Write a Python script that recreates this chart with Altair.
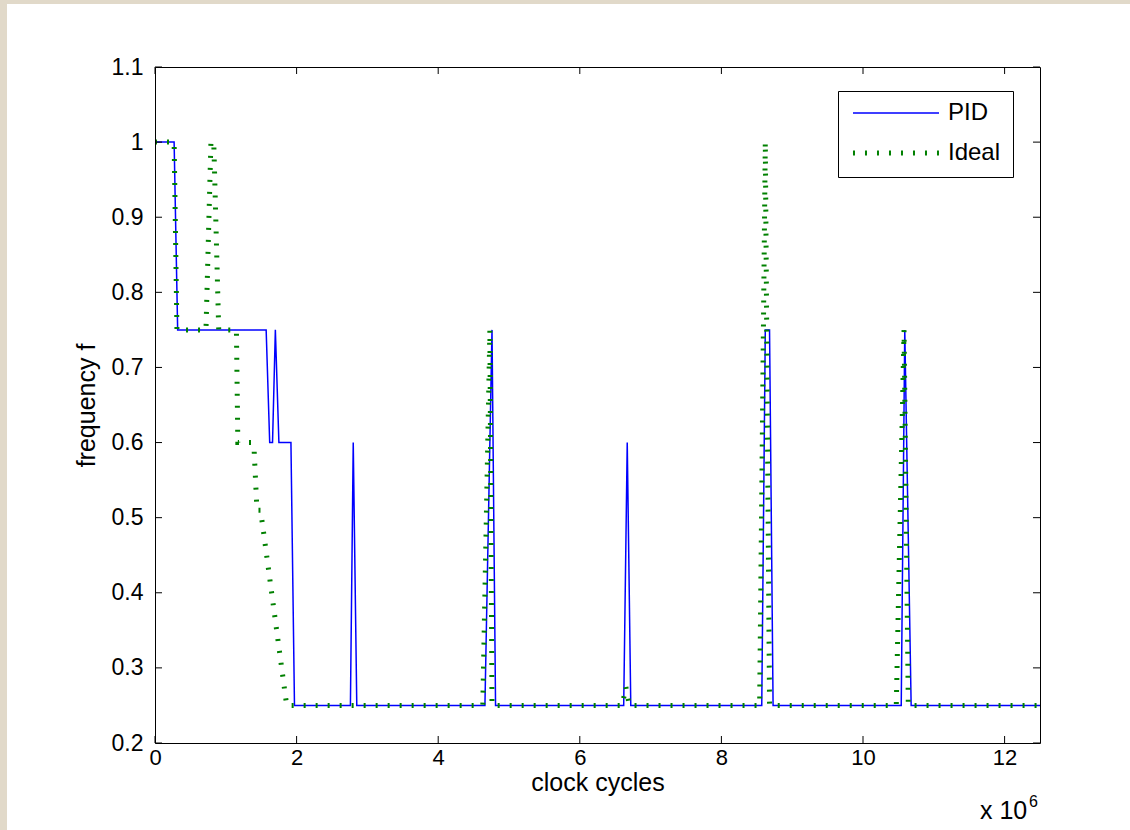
import altair as alt
import pandas as pd

# ---- data (x in units of 10^6 clock cycles) ----
pid_x = [0, 0.27, 0.32, 1.57, 1.62, 1.66, 1.70, 1.75, 1.92, 1.97, 2.76, 2.80, 2.85,
         4.66, 4.76, 4.81, 6.62, 6.67, 6.72, 8.57, 8.62, 8.68, 8.73,
         10.54, 10.59, 10.68, 12.5]
pid_f = [1.0, 1.0, 0.75, 0.75, 0.6, 0.6, 0.75, 0.6, 0.6, 0.25, 0.25, 0.6, 0.25,
         0.25, 0.75, 0.25, 0.25, 0.6, 0.25, 0.25, 0.75, 0.75, 0.25,
         0.25, 0.75, 0.25, 0.25]

ideal_x = [0, 0.27, 0.31, 0.72, 0.79, 0.83, 0.90, 1.15, 1.17, 1.36, 1.40, 1.44, 1.49, 1.52, 1.86,
           4.63, 4.73, 4.76, 6.60, 6.65, 6.70, 8.54, 8.62, 8.68,
           10.47, 10.58, 10.64, 12.5]
ideal_f = [1.0, 1.0, 0.75, 0.75, 1.0, 1.0, 0.75, 0.75, 0.6, 0.6, 0.59, 0.51, 0.51, 0.49, 0.25,
           0.25, 0.75, 0.25, 0.25, 0.275, 0.25, 0.25, 1.0, 0.25,
           0.25, 0.75, 0.25, 0.25]

series_names = ["PID", "Ideal"]
series_colors = ["#0000ff", "#008000"]
x_ticks = [0, 2, 4, 6, 8, 10, 12]
y_ticks = [0.2, 0.3, 0.4, 0.5, 0.6, 0.7, 0.8, 0.9, 1.0, 1.1]

W, H = 885, 676
FONT = "Liberation Sans"

pid_df = pd.DataFrame({"x": pid_x, "f": pid_f, "series": "PID", "i": range(len(pid_x))})
ideal_df = pd.DataFrame({"x": ideal_x, "f": ideal_f, "series": "Ideal", "i": range(len(ideal_x))})

xs = alt.Scale(domain=[0, 12.5], nice=False, zero=False)
ys = alt.Scale(domain=[0.2, 1.1], nice=False, zero=False)

legend = alt.Legend(title=None, orient="none", legendX=683, legendY=24,
                    fillColor="white", strokeColor="black", padding=12,
                    labelFontSize=24, labelFont=FONT, labelColor="black",
                    symbolType="stroke", symbolSize=7400, clipHeight=20,
                    rowPadding=16, labelOffset=6)

enc_common = dict(
    color=alt.Color("series:N", scale=alt.Scale(domain=series_names, range=series_colors), legend=legend),
    strokeDash=alt.StrokeDash("series:N", scale=alt.Scale(domain=series_names, range=[[1, 0], [2, 10]]), legend=legend),
    strokeWidth=alt.StrokeWidth("series:N", scale=alt.Scale(domain=series_names, range=[1.5, 5]), legend=legend),
    order=alt.Order("i:Q"),
)

x_axis = alt.Axis(values=x_ticks, ticks=False, grid=False, domain=True, domainColor="black",
                  labelFont=FONT, labelFontSize=22, labelColor="black", labelPadding=4,
                  title="clock cycles", titleFont=FONT, titleFontSize=25, titleFontWeight="normal",
                  titleColor="black", titleY=39, titleBaseline="middle", zindex=1, labelFlush=False)
y_axis = alt.Axis(values=y_ticks, ticks=False, grid=False, domain=True, domainColor="black",
                  labelFont=FONT, labelFontSize=23, labelColor="black", labelPadding=12,
                  format=".1~f", title="frequency f", titleFont=FONT, titleFontSize=25,
                  titleFontWeight="normal", titleColor="black", titleX=-69, titleBaseline="middle",
                  zindex=1)

# white sheet over the beige page
sheet = alt.Chart(pd.DataFrame({"a": [0]})).mark_rect(color="white").encode(
    x=alt.value(-148), x2=alt.value(W + 90), y=alt.value(-63), y2=alt.value(H + 87))

pid_line = alt.Chart(pid_df).mark_line(interpolate="linear").encode(
    x=alt.X("x:Q", scale=xs, axis=x_axis),
    y=alt.Y("f:Q", scale=ys, axis=y_axis),
    **enc_common)
ideal_line = alt.Chart(ideal_df).mark_line(interpolate="linear", strokeCap="butt").encode(
    x=alt.X("x:Q", scale=xs, axis=None),
    y=alt.Y("f:Q", scale=ys, axis=None),
    **enc_common)

xt = pd.DataFrame({"t": x_ticks})
yt = pd.DataFrame({"t": y_ticks})
tick_style = dict(color="black", strokeWidth=1)

bottom_ticks = alt.Chart(xt).mark_rule(**tick_style).encode(
    x=alt.X("t:Q", scale=xs, axis=None), y=alt.value(H), y2=alt.value(H - 7))
top_ticks = alt.Chart(xt).mark_rule(**tick_style).encode(
    x=alt.X("t:Q", scale=xs, axis=alt.Axis(orient="top", labels=False, ticks=False, grid=False,
                                            domain=True, domainColor="black", title=None, zindex=1)),
    y=alt.value(0), y2=alt.value(7))
left_ticks = alt.Chart(yt).mark_rule(**tick_style).encode(
    y=alt.Y("t:Q", scale=ys, axis=None), x=alt.value(0), x2=alt.value(7))
right_ticks = alt.Chart(yt).mark_rule(**tick_style).encode(
    y=alt.Y("t:Q", scale=ys, axis=alt.Axis(orient="right", labels=False, ticks=False, grid=False,
                                            domain=True, domainColor="black", title=None, zindex=1)),
    x=alt.value(W), x2=alt.value(W - 7))

exp_df = pd.DataFrame({"label": ["x 10"]})
exp_main = alt.Chart(exp_df).mark_text(font=FONT, fontSize=25, color="black", align="left",
                                       baseline="alphabetic").encode(
    x=alt.value(825), y=alt.value(752), text="label:N")
exp_sup = alt.Chart(pd.DataFrame({"label": ["6"]})).mark_text(font=FONT, fontSize=16, color="black",
                                                              align="left", baseline="alphabetic").encode(
    x=alt.value(874), y=alt.value(740), text="label:N")

chart = alt.layer(sheet, pid_line, ideal_line, bottom_ticks, top_ticks, left_ticks, right_ticks,
                  exp_main, exp_sup).resolve_axis(x="independent", y="independent").properties(
    width=W, height=H,
    autosize=alt.AutoSizeParams(type="none"),
    padding={"left": 155, "top": 67, "right": 90, "bottom": 87},
    background="#e1d9c9",
).configure_view(stroke=None)

chart.save("out.html", embed_options={"renderer": "svg", "actions": False})
